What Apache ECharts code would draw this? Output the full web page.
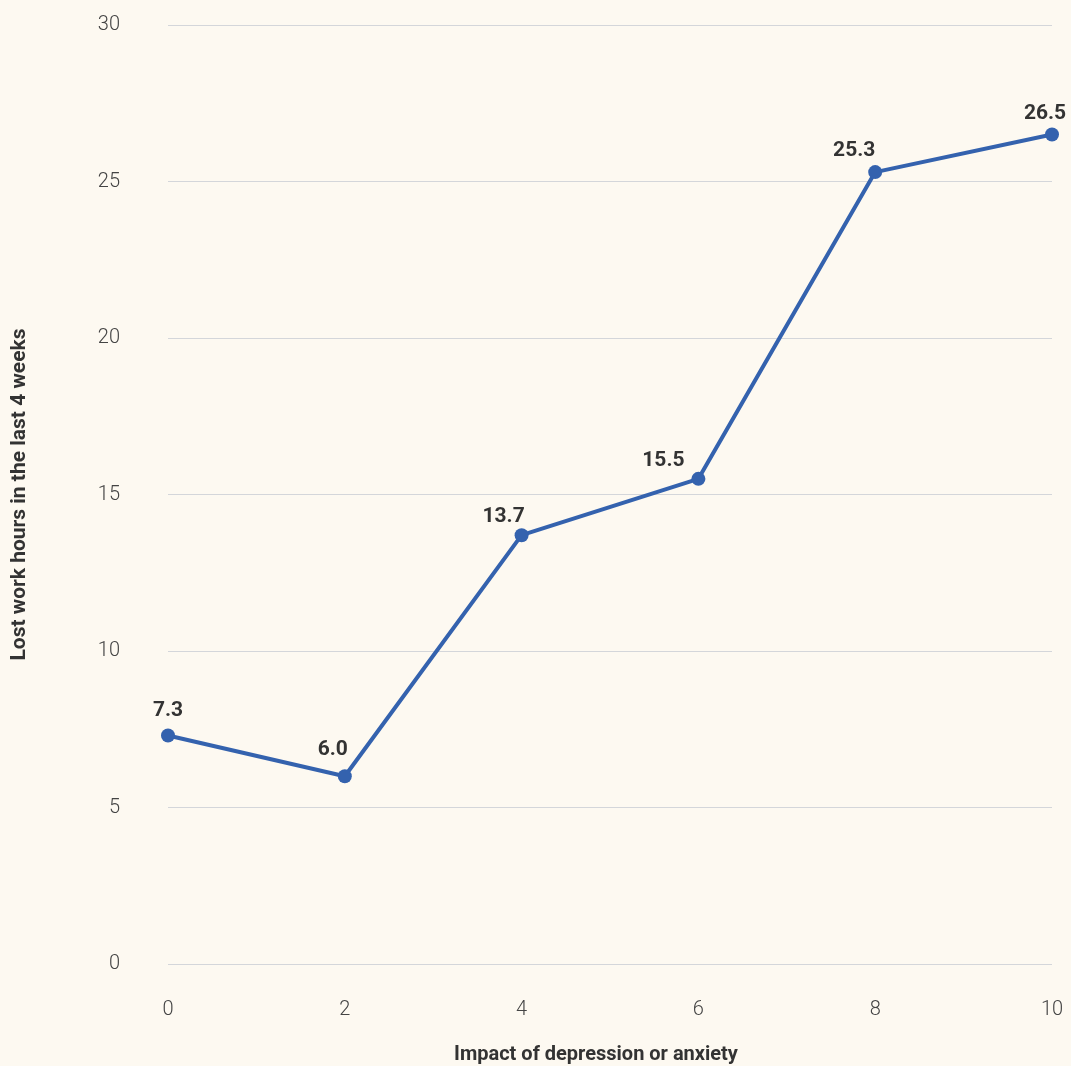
<!DOCTYPE html>
<html>
<head>
<meta charset="utf-8">
<style>
  html, body { margin: 0; padding: 0; background: #fdf9f1; }
  #chart { width: 1071px; height: 1066px; }
</style>
<script src="https://cdn.jsdelivr.net/npm/echarts@6/dist/echarts.min.js"></script>
</head>
<body>
<div id="chart"></div>
<script>
// Impact score (x) vs lost work hours in the last 4 weeks (y)
const impactScores = [0, 2, 4, 6, 8, 10];
const lostHours = [7.3, 6.0, 13.7, 15.5, 25.3, 26.5];
const yTicks = [0, 5, 10, 15, 20, 25, 30];
const xTicks = [0, 2, 4, 6, 8, 10];

// nudges for each value label so it clears the line
const labelNudge = [0, -12, -18, -35, -21, -7];
const labelLift = [-2, -4, 4, 4, 1, 2];

const tickFont = 'Roboto, "Liberation Sans", sans-serif';
const titleFont = 'Roboto, "Liberation Sans", sans-serif';

const chart = echarts.init(document.getElementById('chart'), null, { renderer: 'canvas' });

chart.setOption({
  backgroundColor: '#fdf9f1',
  animation: false,
  grid: {
    left: 168, right: 19, top: 25, bottom: 102,
    containLabel: false,
    outerBoundsMode: 'none'
  },
  xAxis: {
    type: 'value',
    min: xTicks[0],
    max: xTicks[xTicks.length - 1],
    interval: 2,
    name: 'Impact of depression or anxiety',
    nameLocation: 'middle',
    nameGap: 81,
    nameTextStyle: {
      fontFamily: titleFont, fontWeight: 'bold', fontSize: 20, color: '#333',
      padding: [0, 28, 0, 0]
    },
    axisLine: { show: false },
    axisTick: { show: false },
    splitLine: { show: false },
    axisLabel: { margin: 36, fontFamily: tickFont, fontWeight: 300, fontSize: 20, color: '#444' }
  },
  yAxis: {
    type: 'value',
    min: yTicks[0],
    max: yTicks[yTicks.length - 1],
    interval: 5,
    name: 'Lost work hours in the last 4 weeks',
    nameLocation: 'middle',
    nameGap: 138,
    nameRotate: 90,
    nameTextStyle: { fontFamily: titleFont, fontWeight: 'bold', fontSize: 21, color: '#333' },
    axisLine: { show: false },
    axisTick: { show: false },
    splitLine: { show: true, lineStyle: { color: '#d4d6da', width: 1 } },
    axisLabel: { margin: 48, fontFamily: tickFont, fontWeight: 300, fontSize: 20, color: '#444' }
  },
  series: [{
    type: 'line',
    data: impactScores.map((x, i) => ({
      value: [x, lostHours[i]],
      label: { offset: [labelNudge[i], labelLift[i]] }
    })),
    lineStyle: { color: '#3462ae', width: 4 },
    itemStyle: { color: '#3462ae' },
    symbol: 'circle',
    symbolSize: 14,
    clip: false,
    label: {
      show: true,
      position: 'top',
      distance: 5,
      formatter: p => p.value[1].toFixed(1),
      fontFamily: titleFont,
      fontWeight: 'bold',
      fontSize: 21,
      color: '#333'
    }
  }]
});
</script>
</body>
</html>
